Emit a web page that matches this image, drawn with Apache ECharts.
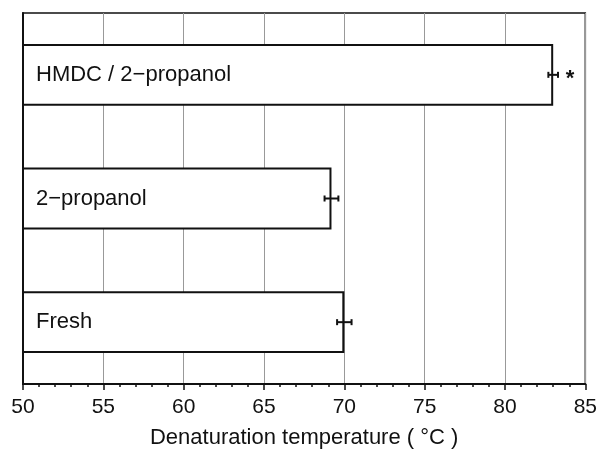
<!DOCTYPE html>
<html>
<head>
<meta charset="utf-8">
<script src="https://cdn.jsdelivr.net/npm/echarts@6/dist/echarts.min.js"></script>
<style>
  html, body { margin: 0; padding: 0; background: #fff; }
  #chart { width: 600px; height: 454px; }
</style>
</head>
<body>
<div id="chart"></div>
<script>
// bottom to top
const categories = ['Fresh', '2\u2212propanol', 'HMDC / 2\u2212propanol']
const temps = [70.0, 69.2, 83.0]
const errors = [0.45, 0.43, 0.3]
const marks = ['', '', '*']
const xTicks = [50, 55, 60, 65, 70, 75, 80, 85]

const chart = echarts.init(document.getElementById('chart'))

// error bars + significance mark
const errData = temps.map((t, i) => [t, i, errors[i], marks[i]])

chart.setOption({
  animation: false,
  grid: {
    left: 23,
    right: 11,
    top: 13,
    bottom: 67,
    show: true,
    borderColor: '#111',
    borderWidth: 1.5
  },
  xAxis: {
    type: 'value',
    min: xTicks[0],
    max: xTicks[xTicks.length - 1],
    interval: 5,
    name: 'Denaturation temperature ( \u00B0C )',
    nameLocation: 'middle',
    nameGap: 43,
    nameTextStyle: { color: '#111', fontSize: 22, fontFamily: 'Liberation Sans' },
    axisLine: { show: true, lineStyle: { color: '#111', width: 2 } },
    axisTick: { show: true, length: 6, lineStyle: { color: '#111', width: 1.5 } },
    minorTick: { show: true, splitNumber: 5, length: 3, lineStyle: { color: '#111', width: 1.5 } },
    axisLabel: { color: '#111', fontSize: 21, margin: 13, fontFamily: 'Liberation Sans' },
    splitLine: { show: true, lineStyle: { color: '#999', width: 1 } }
  },
  yAxis: {
    type: 'category',
    data: categories,
    axisLine: { show: true, lineStyle: { color: '#111', width: 2 } },
    axisTick: { show: false },
    axisLabel: { show: false },
    splitLine: { show: false }
  },
  series: [
    {
      type: 'bar',
      data: temps,
      barWidth: '50%',
      itemStyle: { color: '#fff', borderColor: '#111', borderWidth: 2 },
      label: {
        show: true,
        position: 'insideLeft',
        distance: 14,
        color: '#111',
        fontSize: 22,
        fontFamily: 'Liberation Sans',
        formatter: p => categories[p.dataIndex]
      }
    },
    {
      type: 'custom',
      data: errData,
      encode: { x: 0, y: 1 },
      z: 5,
      renderItem: function (params, api) {
        const v = api.value(0)
        const c = api.value(1)
        const e = api.value(2)
        const lo = api.coord([v - e, c])
        const hi = api.coord([v + e, c])
        const cap = 3
        const style = { stroke: '#111', lineWidth: 2 }
        const children = [
          { type: 'line', shape: { x1: lo[0], y1: lo[1], x2: hi[0], y2: hi[1] }, style },
          { type: 'line', shape: { x1: lo[0], y1: lo[1] - cap, x2: lo[0], y2: lo[1] + cap }, style },
          { type: 'line', shape: { x1: hi[0], y1: hi[1] - cap, x2: hi[0], y2: hi[1] + cap }, style }
        ]
        const m = errData[params.dataIndex][3]
        if (m) {
          children.push({
            type: 'text',
            style: {
              text: m, x: hi[0] + 12, y: hi[1] + 4,
              fill: '#111', fontSize: 22, fontWeight: 'bold',
              textAlign: 'center', textVerticalAlign: 'middle',
              fontFamily: 'Liberation Sans'
            }
          })
        }
        return { type: 'group', children }
      }
    }
  ]
})
</script>
</body>
</html>
